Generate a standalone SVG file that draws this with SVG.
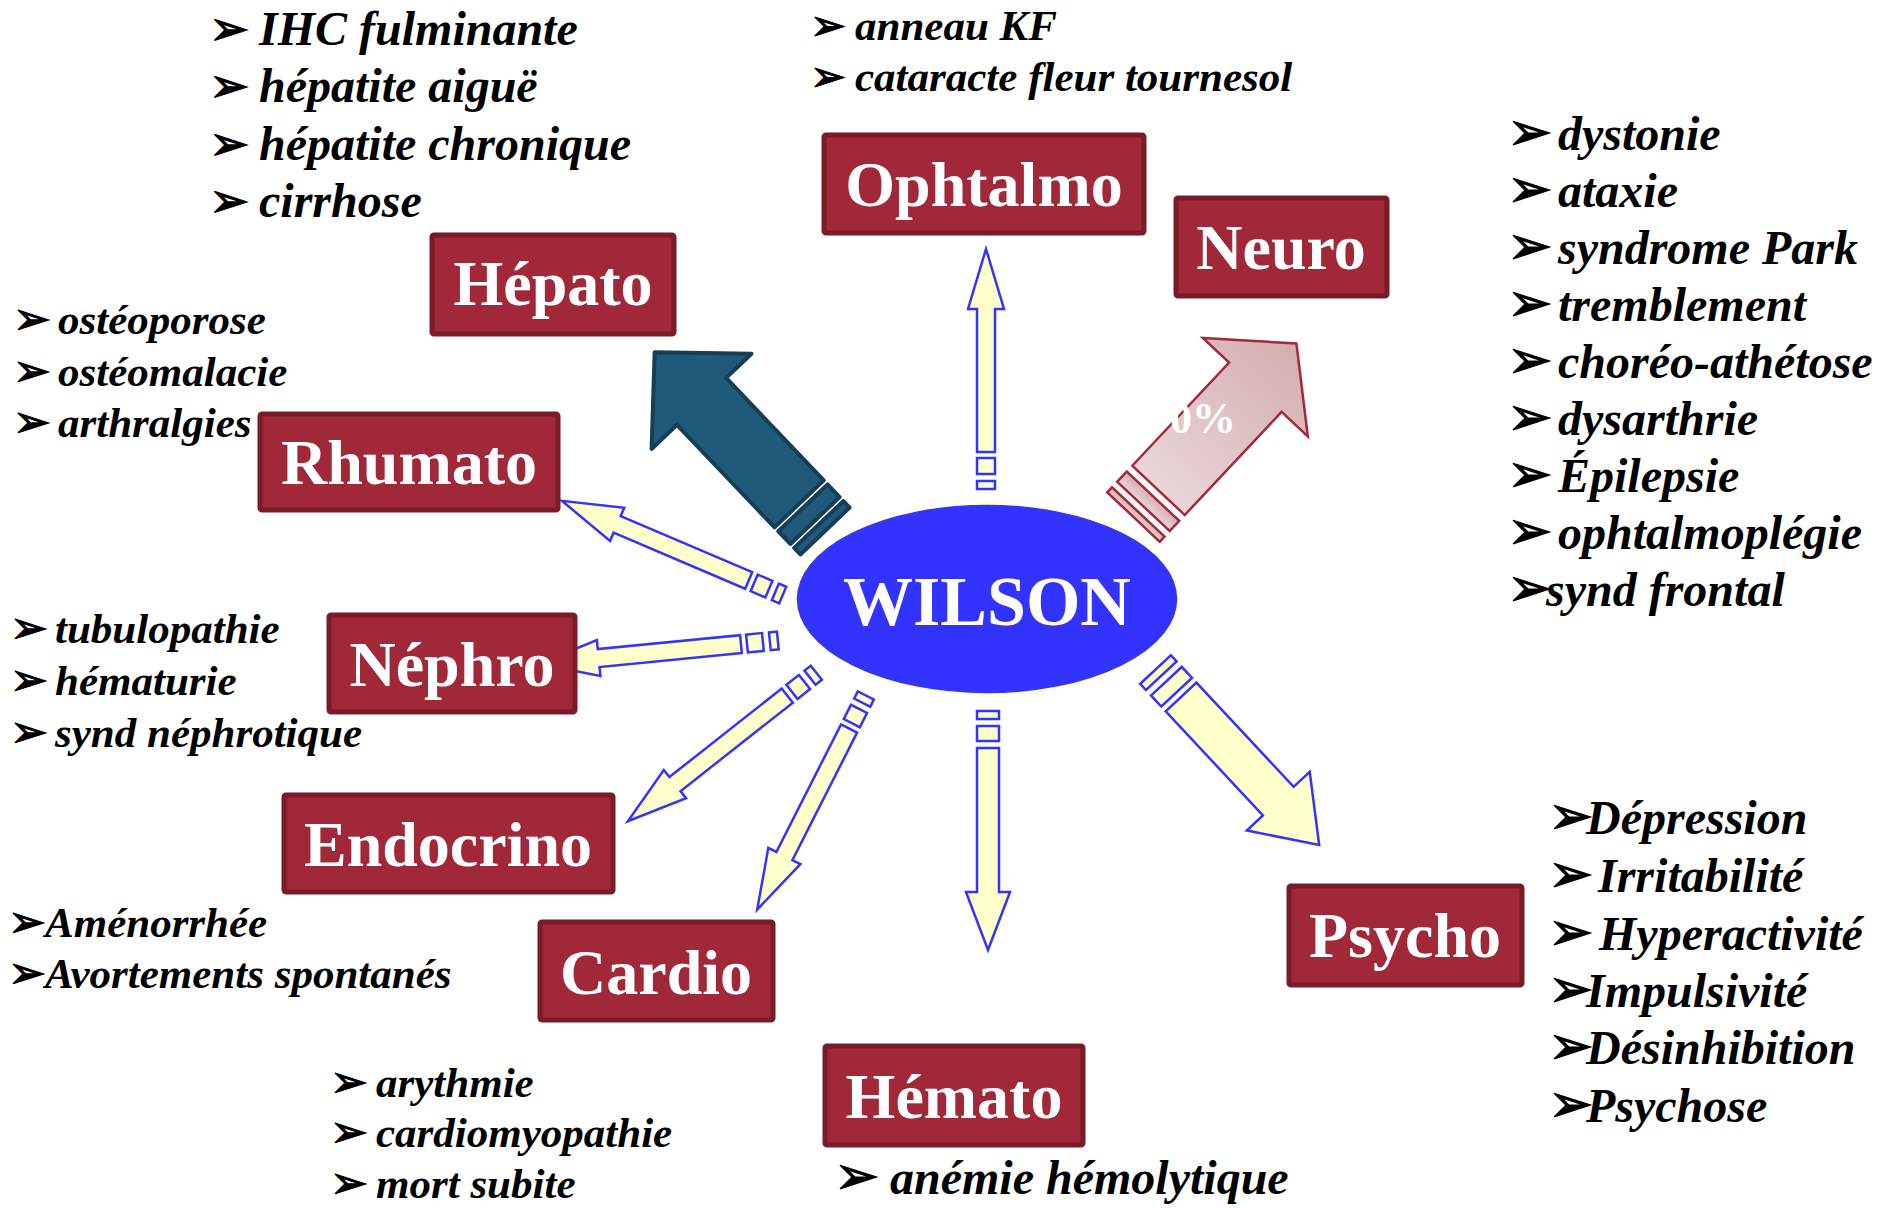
<svg xmlns="http://www.w3.org/2000/svg" xmlns:xlink="http://www.w3.org/1999/xlink" width="1890" height="1208" viewBox="0 0 1890 1208">
<style>
.box{fill:#A12838;stroke:#7A1C27;stroke-width:5}
.lbl{font-family:"Liberation Serif","Times New Roman",serif;font-weight:bold;font-size:64px;fill:#fff;text-anchor:middle}
.li{font-family:"Liberation Serif","Times New Roman",serif;font-weight:bold;font-style:italic;fill:#000}
.big{font-size:48px}
.sm{font-size:43px}
.b{font-family:"DejaVu Sans",sans-serif;font-style:normal;font-weight:bold;stroke:#000;stroke-width:1.2;letter-spacing:-16px}
.big .b{font-size:54px}
.sm .b{font-size:45px}
.top .b{font-size:48px}
.top2 .b{font-size:43px}
.yel{fill:#FFFFCC;stroke:#3333FF;stroke-width:2.5;stroke-miterlimit:10}
.dark{fill:#1F5A7B;stroke:#163E56;stroke-width:4;stroke-linejoin:round}
.pink{fill:url(#pg);stroke:#A42A3A;stroke-width:2.5;stroke-miterlimit:10}
</style>
<defs>
<linearGradient id="pg" x1="0" y1="0" x2="1" y2="0">
<stop offset="0" stop-color="#EAD5D7"/>
<stop offset="1" stop-color="#D3AEB1"/>
</linearGradient>
<g id="arrowA" class="yel">
<rect x="0" y="-9" width="8" height="18"/>
<rect x="15" y="-9" width="16" height="18"/>
<polygon points="37,-9 180,-9 180,-18 240,0 180,18 180,9 37,9"/>
</g>
</defs>
<rect width="1890" height="1208" fill="#fff"/>

<g id="connectors">
<use xlink:href="#arrowA" href="#arrowA" transform="translate(986,489) rotate(-90)"/>
<use xlink:href="#arrowA" href="#arrowA" transform="translate(782.7,595) rotate(203.1)"/>
<use xlink:href="#arrowA" href="#arrowA" transform="translate(777.8,640.5) rotate(174.4)"/>
<use xlink:href="#arrowA" href="#arrowA" transform="translate(816.3,672.7) rotate(141.75)"/>
<use xlink:href="#arrowA" href="#arrowA" transform="translate(865.8,695.5) rotate(116.9)"/>
<g class="yel" transform="translate(988,711) rotate(90)">
<rect x="0" y="-11" width="8" height="22"/>
<rect x="15" y="-11" width="15" height="22"/>
<polygon points="37,-11 181,-11 181,-22 239,0 181,22 181,11 37,11"/>
</g>
<g class="yel" transform="translate(1155.5,669.5) rotate(47)">
<rect x="0" y="-21" width="8.5" height="42"/>
<rect x="16" y="-21" width="15" height="42"/>
<polygon points="37.5,-21 180,-21 180,-43 240,0 180,43 180,21 37.5,21"/>
</g>
<g class="dark" transform="translate(825,531) rotate(226.4)">
<rect x="0" y="-34" width="9" height="68"/>
<rect x="14.5" y="-34" width="17.5" height="68"/>
<polygon points="37.5,-34 179,-34 179,-69 247,0 179,69 179,34 37.5,34"/>
</g>
<g class="pink" transform="translate(1133.5,517) rotate(-46.8)">
<rect x="0" y="-36" width="7" height="72"/>
<rect x="14.5" y="-36" width="14" height="72"/>
<polygon points="36.5,-36 178,-36 178,-72 238,0 178,72 178,36 36.5,36"/>
</g>
<text x="1170" y="433" font-family="Liberation Serif, serif" font-weight="bold" font-size="44" fill="#fff">0%</text>
</g>

<g id="wilson">
<ellipse cx="987" cy="599" rx="191" ry="95" fill="#3333FF" stroke="#FFFFCC" stroke-width="1.5"/>
<text x="987" y="625" class="lbl" style="font-size:70px">WILSON</text>
</g>

<g id="hepato">
<rect class="box" x="432" y="235" width="242" height="99" rx="2"/>
<text class="lbl" x="553" y="305">Hépato</text>
<g class="top">
<text class="li big" y="45"><tspan class="b" x="209">➢</tspan><tspan x="259">IHC fulminante</tspan></text>
<text class="li big" y="102"><tspan class="b" x="209">➢</tspan><tspan x="259">hépatite aiguë</tspan></text>
<text class="li big" y="160"><tspan class="b" x="209">➢</tspan><tspan x="259">hépatite chronique</tspan></text>
<text class="li big" y="217"><tspan class="b" x="209">➢</tspan><tspan x="259">cirrhose</tspan></text>
</g>
</g>

<g id="ophtalmo">
<rect class="box" x="824" y="135" width="320" height="98" rx="2"/>
<text class="lbl" x="984" y="206">Ophtalmo</text>
<g class="top2">
<text class="li sm" y="40"><tspan class="b" x="810">➢</tspan><tspan x="855">anneau KF</tspan></text>
<text class="li sm" y="91"><tspan class="b" x="810">➢</tspan><tspan x="855">cataracte fleur tournesol</tspan></text>
</g>
</g>

<g id="neuro">
<rect class="box" x="1176" y="198" width="211" height="98" rx="2"/>
<text class="lbl" x="1281" y="269">Neuro</text>
<text class="li big" y="150"><tspan class="b" x="1507">➢</tspan><tspan x="1558">dystonie</tspan></text>
<text class="li big" y="207"><tspan class="b" x="1507">➢</tspan><tspan x="1558">ataxie</tspan></text>
<text class="li big" y="264"><tspan class="b" x="1507">➢</tspan><tspan x="1558">syndrome Park</tspan></text>
<text class="li big" y="321"><tspan class="b" x="1507">➢</tspan><tspan x="1558">tremblement</tspan></text>
<text class="li big" y="378"><tspan class="b" x="1507">➢</tspan><tspan x="1558">choréo-athétose</tspan></text>
<text class="li big" y="435"><tspan class="b" x="1507">➢</tspan><tspan x="1558">dysarthrie</tspan></text>
<text class="li big" y="492"><tspan class="b" x="1507">➢</tspan><tspan x="1558">Épilepsie</tspan></text>
<text class="li big" y="549"><tspan class="b" x="1507">➢</tspan><tspan x="1558">ophtalmoplégie</tspan></text>
<text class="li big" y="606"><tspan class="b" x="1507">➢</tspan><tspan x="1546">synd frontal</tspan></text>
</g>

<g id="rhumato">
<rect class="box" x="260" y="414" width="298" height="96" rx="2"/>
<text class="lbl" x="409" y="484">Rhumato</text>
<text class="li sm" y="334"><tspan class="b" x="13">➢</tspan><tspan x="58">ostéoporose</tspan></text>
<text class="li sm" y="386"><tspan class="b" x="13">➢</tspan><tspan x="58">ostéomalacie</tspan></text>
<text class="li sm" y="437"><tspan class="b" x="13">➢</tspan><tspan x="58">arthralgies</tspan></text>
</g>

<g id="nephro">
<rect class="box" x="329" y="615" width="246" height="97" rx="2"/>
<text class="lbl" x="452" y="686">Néphro</text>
<text class="li sm" y="643"><tspan class="b" x="10">➢</tspan><tspan x="55">tubulopathie</tspan></text>
<text class="li sm" y="695"><tspan class="b" x="10">➢</tspan><tspan x="55">hématurie</tspan></text>
<text class="li sm" y="747"><tspan class="b" x="10">➢</tspan><tspan x="55">synd néphrotique</tspan></text>
</g>

<g id="endocrino">
<rect class="box" x="284" y="795" width="329" height="97" rx="2"/>
<text class="lbl" x="448" y="866">Endocrino</text>
<text class="li sm" y="937"><tspan class="b" x="8">➢</tspan><tspan x="45">Aménorrhée</tspan></text>
<text class="li sm" y="988"><tspan class="b" x="8">➢</tspan><tspan x="45">Avortements spontanés</tspan></text>
</g>

<g id="cardio">
<rect class="box" x="540" y="922" width="233" height="98" rx="2"/>
<text class="lbl" x="656" y="994">Cardio</text>
<text class="li sm" y="1097"><tspan class="b" x="330">➢</tspan><tspan x="376">arythmie</tspan></text>
<text class="li sm" y="1147"><tspan class="b" x="330">➢</tspan><tspan x="376">cardiomyopathie</tspan></text>
<text class="li sm" y="1198"><tspan class="b" x="330">➢</tspan><tspan x="376">mort subite</tspan></text>
</g>

<g id="hemato">
<rect class="box" x="825" y="1046" width="258" height="99" rx="2"/>
<text class="lbl" x="954" y="1118">Hémato</text>
<text class="li big" y="1194"><tspan class="b" x="834">➢</tspan><tspan x="890">anémie hémolytique</tspan></text>
</g>

<g id="psycho">
<rect class="box" x="1289" y="886" width="233" height="99" rx="2"/>
<text class="lbl" x="1405" y="957">Psycho</text>
<text class="li big" y="834"><tspan class="b" x="1548">➢</tspan><tspan x="1586">Dépression</tspan></text>
<text class="li big" y="892"><tspan class="b" x="1548">➢</tspan><tspan x="1598">Irritabilité</tspan></text>
<text class="li big" y="950"><tspan class="b" x="1548">➢</tspan><tspan x="1599">Hyperactivité</tspan></text>
<text class="li big" y="1007"><tspan class="b" x="1548">➢</tspan><tspan x="1586">Impulsivité</tspan></text>
<text class="li big" y="1064"><tspan class="b" x="1548">➢</tspan><tspan x="1586">Désinhibition</tspan></text>
<text class="li big" y="1122"><tspan class="b" x="1548">➢</tspan><tspan x="1586">Psychose</tspan></text>
</g>
</svg>
